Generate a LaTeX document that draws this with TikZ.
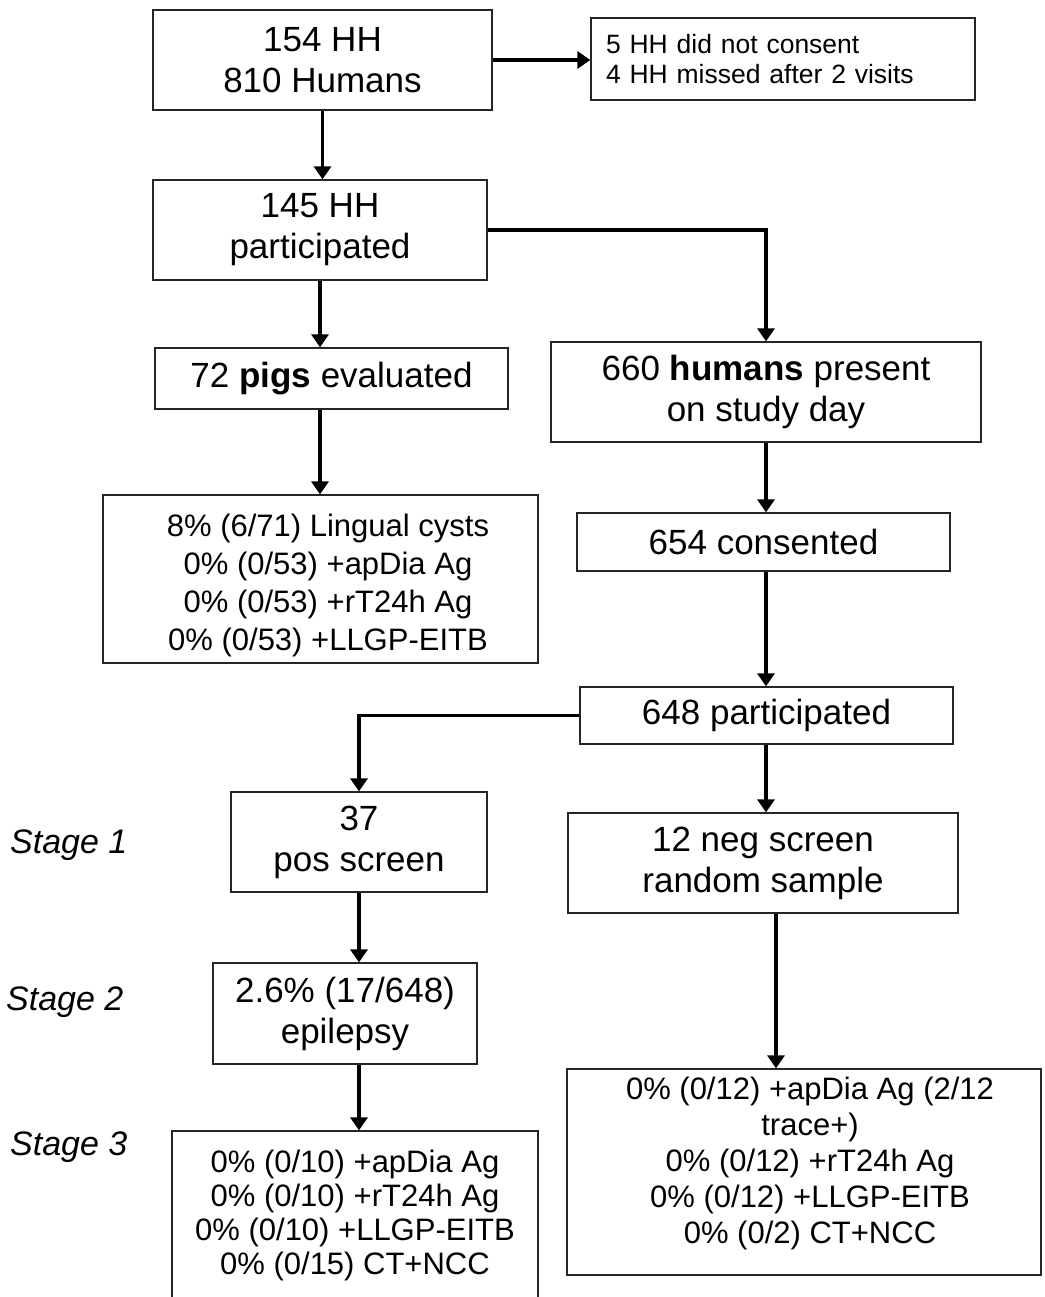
\documentclass[tikz,border=0pt]{standalone}
\usepackage{fontspec}
\setmainfont{Liberation Sans}
\usetikzlibrary{arrows.meta}
\begin{document}
\begin{tikzpicture}[x=1pt,y=-1pt,
  box/.style={draw=black!85, line width=1.3pt, inner sep=0pt, align=center,
    font=\fontsize{35pt}{41pt}\selectfont},
  txt/.style={inner sep=0pt, align=center},
  stagelbl/.style={inner sep=0pt, anchor=base west, font=\fontsize{34pt}{40pt}\selectfont\itshape},
  arr/.style={line width=3.5pt, -{Triangle[width=17pt,length=13pt]}}]
\useasboundingbox[fill=white] (0,0) rectangle (1044,1297);

% boxes
\node[box, minimum width=339pt, minimum height=100pt] (b1) at (322.5,60) {154 HH\\810 Humans};
\node[box, font=\fontsize{26.5pt}{30pt}\selectfont, text width=354pt, align=left,
  inner xsep=15pt, minimum height=82pt] (b2) at (783,59) {5 HH did not consent\\4 HH missed after 2 visits};
\node[box, minimum width=334pt, minimum height=100pt] (b3) at (320,230) {145 HH\\participated};
\node[box, minimum width=353pt, minimum height=61pt] (pigs) at (331.5,378.5) {72 \textbf{pigs} evaluated};
\node[box, minimum width=435pt, minimum height=168pt] (pigres) at (320.5,579) {};
\node[txt, font=\fontsize{31pt}{38pt}\selectfont] (pigrestxt) at (328,585)
  {8\% (6/71) Lingual cysts\\0\% (0/53) +apDia Ag\\0\% (0/53) +rT24h Ag\\0\% (0/53) +LLGP-EITB};
\node[box, minimum width=430pt, minimum height=100pt] (h660) at (766,392) {660 \textbf{humans} present\\on study day};
\node[box, minimum width=373pt, minimum height=58pt] (c654) at (763.5,542) {654 consented};
\node[box, minimum width=373pt, minimum height=57pt] (p648) at (766.5,715.5) {648 participated};
\node[box, minimum width=256pt, minimum height=100pt] (pos37) at (359,842) {37\\pos screen};
\node[box, minimum width=390pt, minimum height=100pt] (neg12) at (763,863) {12 neg screen\\random sample};
\node[box, minimum width=264pt, minimum height=101pt] (epi) at (345,1013.5) {2.6\% (17/648)\\epilepsy};
\node[box, font=\fontsize{31pt}{34pt}\selectfont, minimum width=366pt, minimum height=169pt] (s3L) at (355,1215.5)
  {0\% (0/10) +apDia Ag\\0\% (0/10) +rT24h Ag\\0\% (0/10) +LLGP-EITB\\0\% (0/15) CT+NCC};
\node[box, minimum width=474pt, minimum height=206pt] (s3R) at (804,1172) {};
\node[txt, font=\fontsize{31pt}{36pt}\selectfont] (s3Rtxt) at (810,1163)
  {0\% (0/12) +apDia Ag (2/12\\trace+)\\0\% (0/12) +rT24h Ag\\0\% (0/12) +LLGP-EITB\\0\% (0/2) CT+NCC};

% stage labels
\node[stagelbl] (st1) at (10,853) {Stage 1};
\node[stagelbl] (st2) at (6,1010) {Stage 2};
\node[stagelbl] (st3) at (10,1155) {Stage 3};

% connectors
\draw[arr] (b1.east) -- (b1.east -| b2.west);
\draw[arr] (b1.south) -- (b1.south |- b3.north);
\draw[arr] (b3.east) -| (h660.north);
\draw[arr] (b3.south) -- (b3.south |- pigs.north);
\draw[arr] (pigs.south -| b3.south) -- (pigres.north -| b3.south);
\draw[arr] (h660.south) -- (h660.south |- c654.north);
\draw[arr] (c654.south -| h660.south) -- (p648.north -| h660.south);
\draw[arr] (p648.west) -| (pos37.north);
\draw[arr] (p648.south -| h660.south) -- (neg12.north -| h660.south);
\draw[arr] (pos37.south) -- (pos37.south |- epi.north);
\draw[arr] (epi.south -| pos37.south) -- (s3L.north -| pos37.south);
\draw[arr] ([xshift=13pt]neg12.south) -- ([xshift=13pt]neg12.south |- s3R.north);
\end{tikzpicture}
\end{document}
